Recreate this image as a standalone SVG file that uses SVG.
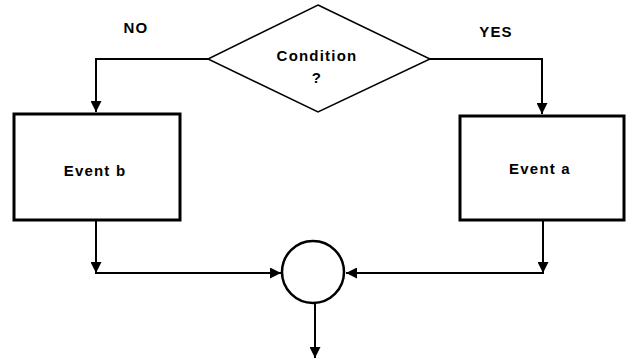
<svg xmlns="http://www.w3.org/2000/svg" width="627" height="361" viewBox="0 0 627 361">
  <style>
    .lbl { font-family: "Liberation Sans", Arial, sans-serif; font-weight: bold; font-size: 15px; letter-spacing: 1.2px; fill: #000; text-anchor: middle; }
    .box { fill: #fff; stroke: #000; stroke-width: 3; }
    .wire { fill: none; stroke: #000; stroke-width: 2; }
  </style>
  <defs>
    <marker id="arrow" viewBox="0 0 10 10" refX="10" refY="5" markerWidth="6" markerHeight="5.5" orient="auto" markerUnits="strokeWidth">
      <path d="M0,0 L10,5 L0,10 Z" fill="#000"/>
    </marker>
  </defs>
  <rect width="627" height="361" fill="#fff"/>

  <g id="connectors">
    <path class="wire" d="M208,59 H96 V112" marker-end="url(#arrow)"/>
    <path class="wire" d="M430,59 H542 V114" marker-end="url(#arrow)"/>
    <path class="wire" d="M96,220 V273 H281" marker-end="url(#arrow)"/>
    <path class="wire" d="M543,220 V273 H346" marker-end="url(#arrow)"/>
    <path class="wire" d="M96,260 V273" marker-end="url(#arrow)"/>
    <path class="wire" d="M543,260 V273" marker-end="url(#arrow)"/>
    <path class="wire" d="M315,303 V358" marker-end="url(#arrow)"/>
    <text class="lbl" x="136" y="33">NO</text>
    <text class="lbl" x="496" y="37">YES</text>
  </g>

  <g id="condition">
    <polygon points="318,5 430,59 318,112 208,59" fill="#fff" stroke="#000" stroke-width="1.5"/>
    <text class="lbl" x="317" y="61">Condition</text>
    <text class="lbl" x="317" y="83">?</text>
  </g>

  <g id="event-b">
    <rect class="box" x="14" y="114" width="166" height="106"/>
    <text class="lbl" x="95" y="176">Event b</text>
  </g>

  <g id="event-a">
    <rect class="box" x="460" y="116" width="164" height="104"/>
    <text class="lbl" x="540" y="174">Event a</text>
  </g>

  <g id="merge">
    <circle cx="313" cy="272" r="31" fill="#fff" stroke="#000" stroke-width="2.5"/>
  </g>
</svg>
